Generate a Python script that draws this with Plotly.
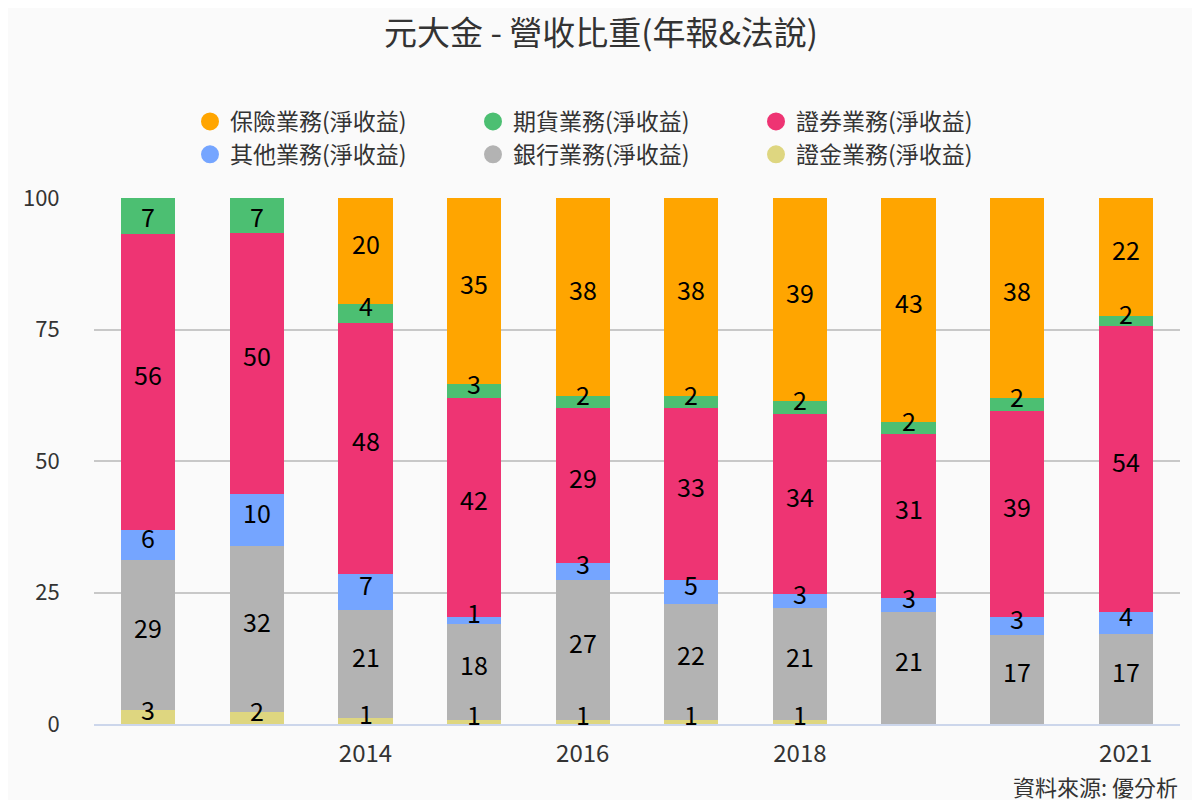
import plotly.graph_objects as go

years = [2012, 2013, 2014, 2015, 2016, 2017, 2018, 2019, 2020, 2021]

# stacking order bottom -> top
zhengjin = [2.6, 2.2, 1.1, 0.7, 0.7, 0.7, 0.7, None, None, None]      # 證金業務
bank = [28.6, 31.6, 20.6, 18.3, 26.6, 22.1, 21.3, 21.2, 17.0, 17.1]   # 銀行業務
other = [5.7, 9.9, 6.8, 1.4, 3.4, 4.6, 2.7, 2.7, 3.4, 4.2]            # 其他業務
securities = [56.2, 49.7, 47.8, 41.6, 29.3, 32.6, 34.3, 31.2, 39.2, 54.4]  # 證券業務
futures = [6.9, 6.6, 3.6, 2.7, 2.3, 2.3, 2.4, 2.3, 2.3, 1.9]          # 期貨業務
insurance = [None, None, 20.1, 35.3, 37.7, 37.7, 38.6, 42.6, 38.1, 22.4]  # 保險業務

series = [
    ("證金業務(淨收益)", zhengjin, "#DED680"),
    ("銀行業務(淨收益)", bank, "#B3B3B3"),
    ("其他業務(淨收益)", other, "#75A5FF"),
    ("證券業務(淨收益)", securities, "#EE3473"),
    ("期貨業務(淨收益)", futures, "#4CBF72"),
    ("保險業務(淨收益)", insurance, "#FFA500"),
]
legend_order = ["保險業務(淨收益)", "期貨業務(淨收益)", "證券業務(淨收益)",
                "其他業務(淨收益)", "銀行業務(淨收益)", "證金業務(淨收益)"]

tick_years = [2014, 2016, 2018, 2021]
y_ticks = [0, 25, 50, 75, 100]

FONT = "Noto Sans CJK TC"
PLOT_TOP, PLOT_BOTTOM = 190, 716
PLOT_LEFT, PLOT_RIGHT = 86, 1172
plot_h = PLOT_BOTTOM - PLOT_TOP
ppu = plot_h / 100.0

fig = go.Figure()
annotations = []
base = [0.0] * len(years)
for name, vals, color in series:
    fig.add_trace(go.Bar(
        x=years, y=vals, name=name, marker=dict(color=color, line=dict(width=0)),
        showlegend=False, hoverinfo="x+y+name",
    ))
    for i, v in enumerate(vals):
        if v is None or v == 0:
            continue
        c = base[i] + v / 2.0
        from_top = (100 - c) * ppu
        shift = min(8, from_top - 17.5)
        annotations.append(dict(
            x=years[i], y=c, xref="x", yref="y", text=str(int(v + 0.5)),
            showarrow=False, yshift=shift, yanchor="middle",
            font=dict(family=FONT, size=25, color="#000000"),
        ))
        base[i] += v

colors = {n: c for n, _, c in series}
for name in legend_order:
    fig.add_trace(go.Scatter(
        x=[None], y=[None], mode="markers", name=name,
        marker=dict(symbol="circle", size=16, color=colors[name],
                    line=dict(color=colors[name], width=2)),
        showlegend=True, hoverinfo="skip",
    ))

annotations.append(dict(
    text="資料來源: 優分析", xref="paper", yref="paper", x=1, y=-(778 - PLOT_BOTTOM) / plot_h,
    xanchor="right", yanchor="middle", showarrow=False,
    font=dict(family=FONT, size=22, color="#333333"),
))

fig.update_layout(
    width=1200, height=800,
    barmode="stack", bargap=0.5,
    paper_bgcolor="#FAFAFA", plot_bgcolor="#FAFAFA",
    margin=dict(l=PLOT_LEFT, r=1200 - PLOT_RIGHT, t=PLOT_TOP, b=800 - PLOT_BOTTOM,
                pad=0, autoexpand=False),
    font=dict(family=FONT, color="#333333"),
    title=dict(text="元大金 - 營收比重(年報&法說)", x=593 / 1200, xref="container", xanchor="center",
               y=1 - 25 / 800, yref="container", yanchor="middle",
               font=dict(family=FONT, size=33, color="#333333")),
    legend=dict(orientation="h", traceorder="normal",
                x=182 / 1200, xref="container", xanchor="left",
                y=1 - 92 / 800, yref="container", yanchor="top",
                entrywidth=238, entrywidthmode="pixels",
                font=dict(family=FONT, size=23, color="#333333"),
                bgcolor="rgba(0,0,0,0)", itemclick=False, tracegroupgap=0),
    xaxis=dict(range=[2011.5, 2021.5], tickmode="array", tickvals=tick_years,
               ticktext=[str(t) for t in tick_years], showgrid=False, zeroline=False,
               showline=True, linecolor="#CCD6EB", linewidth=2,
               ticks="outside", ticklen=7, tickcolor="rgba(0,0,0,0)",
               tickfont=dict(family=FONT, size=24, color="#333333")),
    yaxis=dict(range=[0, 100], tickmode="array", tickvals=y_ticks, showgrid=True,
               gridcolor="#C8C8C8", gridwidth=2, zeroline=False, showline=False,
               ticks="outside", ticklen=29, tickcolor="rgba(0,0,0,0)",
               tickfont=dict(family=FONT, size=22, color="#333333")),
    annotations=annotations,
    showlegend=True,
)

fig.write_html("out.html")
